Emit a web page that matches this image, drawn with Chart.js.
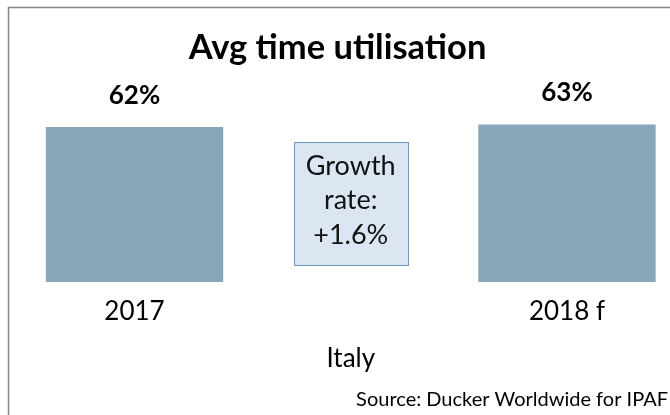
<!DOCTYPE html>
<html><head><meta charset="utf-8">
<script src="https://cdn.jsdelivr.net/npm/chart.js@4.4.1/dist/chart.umd.min.js"></script>
<style>html,body{margin:0;padding:0;background:#fff;overflow:hidden}canvas{display:block}</style>
</head><body>
<canvas id="c" width="670" height="415"></canvas>
<script>
// ---- data ----
const categories = ['2017', '2018 f'];
const utilisation = [62, 63];
const growthLines = ['Growth', 'rate:', '+1.6%'];
const chartTitle = 'Avg time utilisation';
const axisTitle = 'Italy';
const sourceNote = 'Source: Ducker Worldwide for IPAF';

const FONT = 'Lato, "Open Sans", sans-serif';

const framePlugin = {
  id: 'frame',
  beforeDraw(chart) {
    const ctx = chart.ctx;
    ctx.save();
    ctx.fillStyle = '#fff';
    ctx.fillRect(0, 0, chart.width, chart.height);
    ctx.strokeStyle = '#858585';
    ctx.lineWidth = 1.5;
    ctx.beginPath();
    ctx.moveTo(8.5, chart.height + 2);
    ctx.lineTo(8.5, 7.5);
    ctx.lineTo(chart.width + 2, 7.5);
    ctx.stroke();
    ctx.restore();
  }
};

const barLabelPlugin = {
  id: 'barLabels',
  afterDatasetsDraw(chart) {
    const ctx = chart.ctx;
    const meta = chart.getDatasetMeta(0);
    ctx.save();
    ctx.font = 'bold 26px ' + FONT;
    ctx.fillStyle = '#000';
    ctx.textAlign = 'center';
    ctx.textBaseline = 'middle';
    meta.data.forEach((bar, i) => {
      ctx.fillText(utilisation[i] + '%', bar.x, bar.y - 31.5);
    });
    ctx.restore();
  }
};

const growthBoxPlugin = {
  id: 'growthBox',
  afterDatasetsDraw(chart, args, opts) {
    const ctx = chart.ctx;
    const meta = chart.getDatasetMeta(0);
    const ys = chart.scales.y;
    const cx = (meta.data[0].x + meta.data[meta.data.length - 1].x) / 2;
    const top = ys.getPixelForValue(opts.topValue);
    const bottom = ys.getPixelForValue(opts.bottomValue);
    const w = opts.width;
    const left = Math.round(cx - w / 2) + 0.5;
    ctx.save();
    ctx.fillStyle = '#dce6f2';
    ctx.strokeStyle = '#7393b5';
    ctx.lineWidth = 1;
    ctx.fillRect(left, Math.round(top) + 0.5, w, Math.round(bottom - top));
    ctx.strokeRect(left, Math.round(top) + 0.5, w, Math.round(bottom - top));
    ctx.font = '27px ' + FONT;
    ctx.fillStyle = '#111';
    ctx.textAlign = 'center';
    ctx.textBaseline = 'middle';
    const cy = (top + bottom) / 2 + opts.offset;
    const n = growthLines.length;
    growthLines.forEach((t, i) => {
      ctx.fillText(t, cx, cy + (i - (n - 1) / 2) * opts.lineSpacing);
    });
    ctx.restore();
  }
};

new Chart(document.getElementById('c'), {
  type: 'bar',
  data: {
    labels: categories,
    datasets: [{
      data: utilisation,
      backgroundColor: '#87a6ba',
      borderWidth: 0,
      categoryPercentage: 1,
      barPercentage: 0.41,
      clip: false
    }]
  },
  options: {
    responsive: false,
    animation: false,
    devicePixelRatio: 1,
    layout: { padding: { left: 7, right: 2, top: 0, bottom: 0 } },
    plugins: {
      legend: { display: false },
      tooltip: { enabled: false },
      title: {
        display: true,
        text: chartTitle,
        color: '#000',
        font: { family: FONT, size: 34.5, weight: 'bold', lineHeight: 1.2 },
        padding: { top: 27.3, bottom: 55.8 }
      },
      subtitle: {
        display: true,
        position: 'bottom',
        align: 'end',
        text: sourceNote,
        color: '#000',
        font: { family: FONT, size: 20, lineHeight: 1.2 },
        padding: { top: 13.4, bottom: 3 }
      },
      growthBox: { topValue: 56, bottomValue: 6.8, width: 114, lineSpacing: 34.5, offset: -3 }
    },
    scales: {
      x: {
        type: 'category',
        offset: false,
        grid: { display: false, drawTicks: false },
        border: { display: false },
        ticks: { color: '#000', font: { family: FONT, size: 26, lineHeight: 1.2 }, padding: 14.4, maxRotation: 0, autoSkip: false },
        title: { display: true, text: axisTitle, color: '#000', font: { family: FONT, size: 26, lineHeight: 1.2 }, padding: { top: 1.5, bottom: 0 } }
      },
      y: {
        position: 'left',
        min: 0,
        max: 63,
        grid: { display: false, drawTicks: false },
        border: { display: false },
        ticks: { display: false },
        afterFit(s) { s.width = 127.5; }
      },
      y2: {
        type: 'linear',
        position: 'right',
        grid: { display: false, drawTicks: false },
        border: { display: false },
        ticks: { display: false },
        afterFit(s) { s.width = 101; }
      }
    }
  },
  plugins: [framePlugin, barLabelPlugin, growthBoxPlugin]
});
</script>
</body></html>
